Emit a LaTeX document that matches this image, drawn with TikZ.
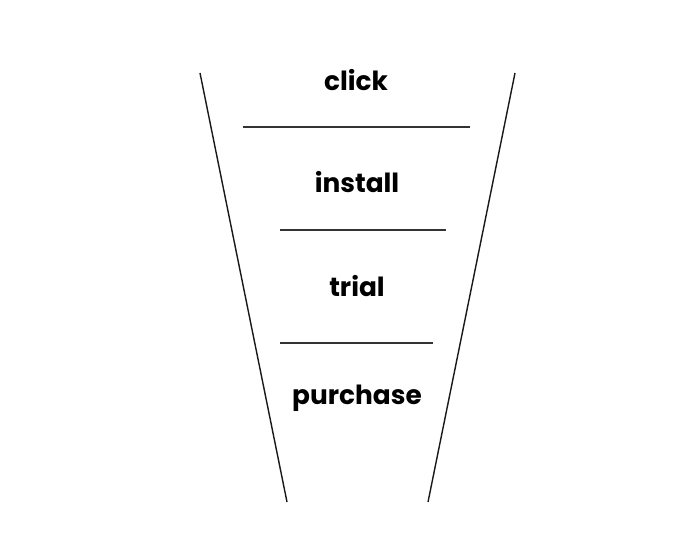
\documentclass[tikz,border=0pt]{standalone}
\usepackage{fontspec}
\setmainfont{Poppins}
\usepackage{tikz}
\usetikzlibrary{positioning}

\begin{document}
\begin{tikzpicture}[
    x=0.01cm, y=-0.01cm,
    stage/.style={font=\bfseries\fontsize{7.5}{9}\selectfont, text=black, inner sep=0pt},
    side/.style={line width=0.4pt, black!90},
    sep/.style={line width=0.45pt, black!80}
]
\useasboundingbox (0,0) rectangle (698,558);
% funnel sides
\draw[side] (200,73) -- (287,502);
\draw[side] (515,73) -- (428,502);
% separators
\draw[sep] (243,127) -- (470,127);
\draw[sep] (280,230) -- (446,230);
\draw[sep] (280,343) -- (433,343);
% stages
\node[stage] (click) at (356,80) {click};
\node[stage] (install) at (357,182) {install};
\node[stage] (trial) at (357,286) {trial};
\node[stage] (purchase) at (357,398) {purchase};
\end{tikzpicture}
\end{document}
